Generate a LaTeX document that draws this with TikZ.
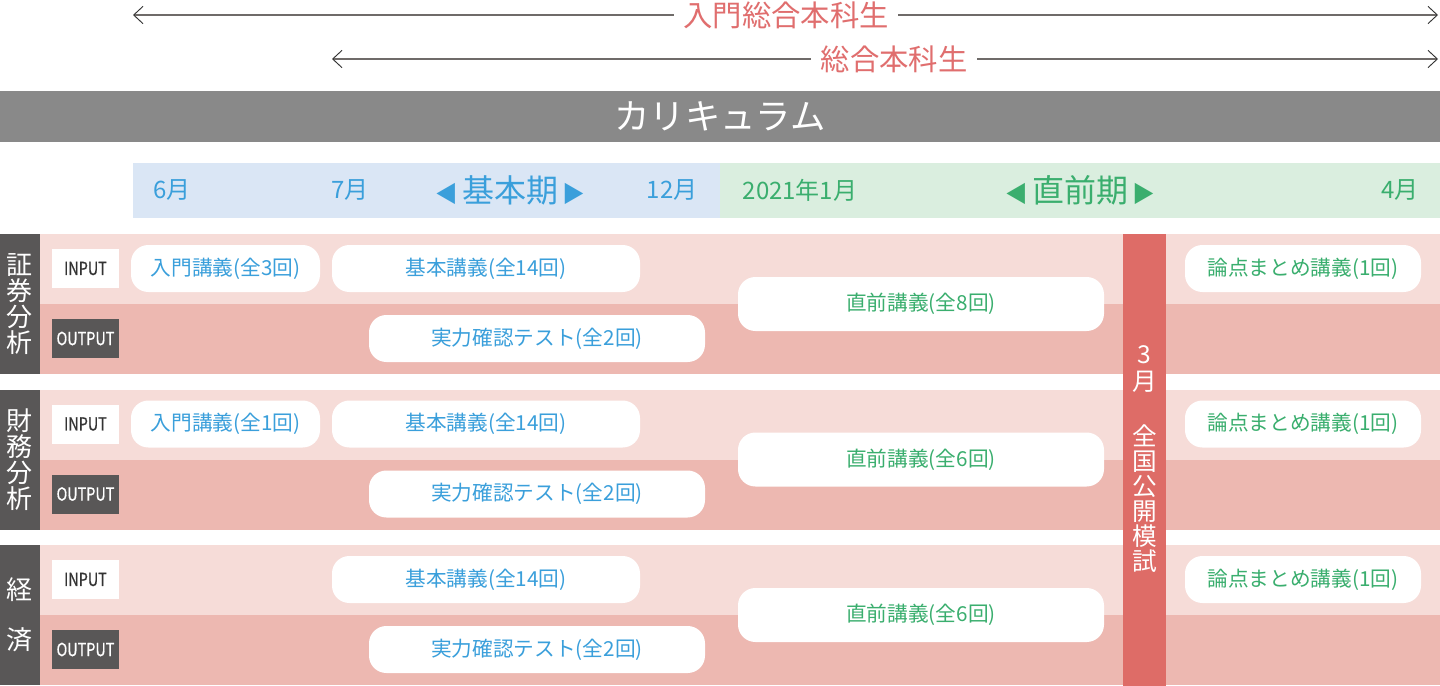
\documentclass[tikz,border=0pt]{standalone}
\usepackage{fontspec}
\newfontfamily\jpfont{Noto Sans CJK JP}
\newfontfamily\jpnarrow[FakeStretch=0.8,FakeBold=0.6]{Noto Sans CJK JP}
\usetikzlibrary{arrows.meta,positioning}

\definecolor{bannergray}{HTML}{898989}
\definecolor{termblue}{HTML}{DAE6F5}
\definecolor{termgreen}{HTML}{DAEEDF}
\definecolor{txtblue}{HTML}{3A9FDB}
\definecolor{txtgreen}{HTML}{3AAE6E}
\definecolor{rowlight}{HTML}{F6DCD8}
\definecolor{rowdark}{HTML}{EDB8B1}
\definecolor{examred}{HTML}{DE6C67}
\definecolor{labelgray}{HTML}{595757}
\definecolor{coursered}{HTML}{E06E6E}
\definecolor{arrowgray}{HTML}{6F6B69}

\tikzset{
  span/.style={draw=arrowgray, line width=1.1pt,
    {Straight Barb[length=7pt,width=13pt,line width=0.7pt,color=black!80]}-{Straight Barb[length=7pt,width=13pt,line width=0.7pt,color=black!80]}},
  coursename/.style={fill=white, inner xsep=7pt, inner ysep=2pt, text=coursered,
    font=\jpfont\fontsize{22}{24}\selectfont},
  month/.style={inner sep=0pt, font=\jpfont\fontsize{18}{20}\selectfont},
  pill/.style={fill=white, rounded corners=13pt, minimum height=35.25pt, inner sep=0pt,
    font=\jpfont\fontsize{15.5}{18}\selectfont},
  inbox/.style={fill=white, minimum width=50.25pt, minimum height=29.25pt, inner sep=0pt,
    text=black!80, font=\jpnarrow\fontsize{13.5}{16}\selectfont},
  outbox/.style={inbox, fill=labelgray, text=white},
  subject/.style={text=white, align=center, inner sep=0pt},
}

\begin{document}
\begin{tikzpicture}[x=0.75pt, y=-0.75pt]
  \useasboundingbox (0,0) rectangle (1440,686);

  % Courses on top
  \coordinate (c1l) at (133,15);
  \coordinate (c1r) at (1438,15);
  \coordinate (c2l) at (332,59);
  \coordinate (c2r) at (1438,59);
  \draw[span] (c1l) -- (c1r);
  \draw[span] (c2l) -- (c2r);
  \node[coursename] (course1) at (786,15) {入門総合本科生};
  \node[coursename] (course2) at (894,59) {総合本科生};

  % Banner
  \fill[bannergray] (0,91) rectangle (1440,142);
  \node[text=white, font=\jpfont\fontsize{26.5}{28}\selectfont] (banner) at (720,116.5) {カリキュラム};

  % Terms
  \fill[termblue] (133,163) rectangle (720,218);
  \fill[termgreen] (720,163) rectangle (1440,218);
  \node[month, text=txtblue] (m6) at (172,190.5) {6月};
  \node[month, text=txtblue] (m7) at (350,190.5) {7月};
  \node[month, text=txtblue] (basicterm) at (510,190.5)
    {{\fontsize{17}{18}\selectfont ◀}\kern3pt{\fontsize{24}{26}\selectfont 基本期}\kern3pt{\fontsize{17}{18}\selectfont ▶}};
  \node[month, text=txtblue] (m12) at (672,190.5) {12月};
  \node[month, text=txtgreen] (m1) at (800,190.5) {2021年1月};
  \node[month, text=txtgreen] (finalterm) at (1080,190.5)
    {{\fontsize{17}{18}\selectfont ◀}\kern3pt{\fontsize{24}{26}\selectfont 直前期}\kern3pt{\fontsize{17}{18}\selectfont ▶}};
  \node[month, text=txtgreen] (m4) at (1400,190.5) {4月};

  % Subject rows
  \foreach \s/\dy in {1/0, 2/155.5, 3/311} {
    \fill[rowlight] (40,{234+\dy}) rectangle (1440,{304+\dy});
    \fill[rowdark] (40,{304+\dy}) rectangle (1440,{374+\dy});
    \fill[labelgray] (0,{234+\dy}) rectangle (40,{374+\dy});
    \node[inbox] (in\s) at (85.5,{268.5+\dy}) {INPUT};
    \node[outbox] (out\s) at (85.5,{338.5+\dy}) {OUTPUT};
  }

  % Mock exam
  \fill[examred] (1123,234) rectangle (1166,686);
  \node[subject, font=\jpfont\fontsize{18.5}{20.25}\selectfont] (exammonth) at (1144.5,369.5) {3\\月};
  \node[subject, font=\jpfont\fontsize{18.5}{18.75}\selectfont] (exam) at (1144.5,498.5) {全\\国\\公\\開\\模\\試};

  % Lectures
  \foreach \s/\dy/\dn in {1/0/8, 2/155.5/6, 3/311/6} {
    \node[pill, minimum width=231pt, text=txtblue] (basic\s) at (486,{268.5+\dy}) {基本講義(全14回)};
    \node[pill, minimum width=252pt, text=txtblue] (test\s) at (537,{338.5+\dy}) {実力確認テスト(全2回)};
    \node[pill, minimum width=274.5pt, minimum height=40.5pt, text=txtgreen] (final\s) at (921,{304+\dy}) {直前講義(全\dn 回)};
    \node[pill, minimum width=177pt, text=txtgreen] (review\s) at (1303,{268.5+\dy}) {論点まとめ講義(1回)};
  }
  \node[pill, minimum width=141.75pt, text=txtblue] (intro1) at (225.5,268.5) {入門講義(全3回)};
  \node[pill, minimum width=141.75pt, text=txtblue] (intro2) at (225.5,424) {入門講義(全1回)};

  % Subject names
  \node[subject, font=\jpfont\fontsize{19.5}{19.5}\selectfont] (sec1) at (20,304) {証\\券\\分\\析};
  \node[subject, font=\jpfont\fontsize{19.5}{19.5}\selectfont] (sec2) at (20,459.5) {財\\務\\分\\析};
  \node[subject, font=\jpfont\fontsize{19.5}{37.5}\selectfont] (sec3) at (20,615) {経\\済};
\end{tikzpicture}
\end{document}
